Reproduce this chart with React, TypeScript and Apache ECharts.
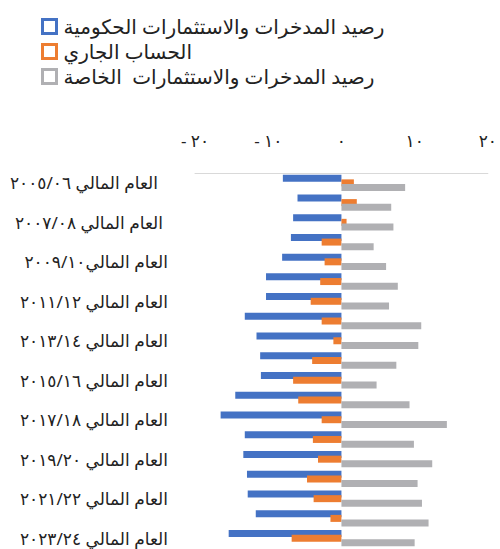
import React, { useEffect, useRef } from "react";
import * as echarts from "echarts";

const years = [
  "٢٠٠٥/٠٦", "٢٠٠٦/٠٧", "٢٠٠٧/٠٨", "٢٠٠٨/٠٩", "٢٠٠٩/١٠", "٢٠١٠/١١", "٢٠١١/١٢",
  "٢٠١٢/١٣", "٢٠١٣/١٤", "٢٠١٤/١٥", "٢٠١٥/١٦", "٢٠١٦/١٧", "٢٠١٧/١٨", "٢٠١٨/١٩",
  "٢٠١٩/٢٠", "٢٠٢٠/٢١", "٢٠٢١/٢٢", "٢٠٢٢/٢٣", "٢٠٢٣/٢٤",
];
const categories = years.map((y, i) => (i === 4 ? "العام المالي" + y : "العام المالي " + y));

const seriesNames = [
  "رصيد المدخرات والاستثمارات الحكومية",
  "الحساب الجاري",
  "رصيد المدخرات والاستثمارات  الخاصة",
];

const government = [-8.0, -6.0, -6.6, -6.9, -8.1, -10.3, -10.3, -13.2, -11.6, -11.1, -11.0, -14.5, -16.5, -13.2, -13.4, -12.9, -12.8, -11.7, -15.4];
const currentAccount = [1.7, 2.1, 0.7, -2.7, -2.3, -2.9, -4.2, -2.7, -1.1, -4.0, -6.6, -5.9, -2.7, -3.9, -3.2, -4.7, -3.8, -1.5, -6.8];
const privateBalance = [8.7, 6.8, 7.1, 4.4, 6.1, 7.7, 6.5, 10.9, 10.5, 7.5, 4.8, 9.3, 14.4, 9.9, 12.4, 10.4, 11.0, 11.9, 10.0];

const xTickValues = [-20, -10, 0, 10, 20];
const xTickLabels = ["- ٢٠", "- ١٠", "٠", "١٠", "٢٠"];

const colors = ["#4472c4", "#ed7d31", "#b0b0b3"];
const FONT = "'Noto Sans', 'DejaVu Sans', sans-serif";

export default function App() {
  const ref = useRef<HTMLDivElement>(null);
  useEffect(() => {
    if (!ref.current) return;
    const chart = echarts.init(ref.current, undefined, { renderer: "svg" });
    const dataSets = [government, currentAccount, privateBalance];
    chart.setOption({
      animation: false,
      color: colors,
      legend: {
        orient: "vertical",
        left: 36,
        top: 9,
        itemGap: 0,
        itemWidth: 14,
        itemHeight: 14,
        icon: "rect",
        textStyle: { fontFamily: FONT, fontSize: 20, color: "#222", lineHeight: 25, padding: [0, 0, 0, 2] },
        data: seriesNames.map((n, i) => ({
          name: n,
          itemStyle: { color: "#fff", borderColor: colors[i], borderWidth: 3 },
        })),
      },
      grid: { left: 195, right: 12, top: 173, height: 375, containLabel: false },
      xAxis: {
        type: "value",
        position: "top",
        min: -20,
        max: 20,
        interval: 10,
        axisLine: { show: true, lineStyle: { color: "#d9d9d9", width: 1 } },
        axisTick: { show: false },
        splitLine: { show: false },
        axisLabel: {
          margin: 24,
          fontFamily: FONT,
          fontSize: 17,
          color: "#222",
          formatter: (v: number) => {
            const idx = xTickValues.indexOf(v);
            return idx >= 0 ? xTickLabels[idx] : "";
          },
        },
      },
      yAxis: {
        type: "category",
        inverse: true,
        data: categories,
        axisLine: { show: false },
        axisTick: { show: false },
        axisLabel: {
          interval: 1,
          margin: 27,
          fontFamily: FONT,
          fontSize: 17,
          color: "#222",
          formatter: (v: string, i: number) => {
            const key = i === 0 ? "p10" : i === 2 ? "p5" : "p0";
            return "{" + key + "|" + v + "}";
          },
          rich: {
            p0: { fontFamily: FONT, fontSize: 17, color: "#222", padding: [0, 0, 0, 0] },
            p5: { fontFamily: FONT, fontSize: 17, color: "#222", padding: [0, 5, 0, 0] },
            p10: { fontFamily: FONT, fontSize: 17, color: "#222", padding: [0, 10, 0, 0] },
          },
        },
      },
      series: seriesNames.map((n, i) => ({
        name: n,
        type: "bar",
        data: dataSets[i],
        barWidth: 7,
        barGap: "-33%",
        itemStyle: { color: colors[i] },
      })),
    });
    return () => chart.dispose();
  }, []);
  return <div ref={ref} style={{ position: "absolute", left: 0, top: 0, width: 500, height: 549 }} />;
}
